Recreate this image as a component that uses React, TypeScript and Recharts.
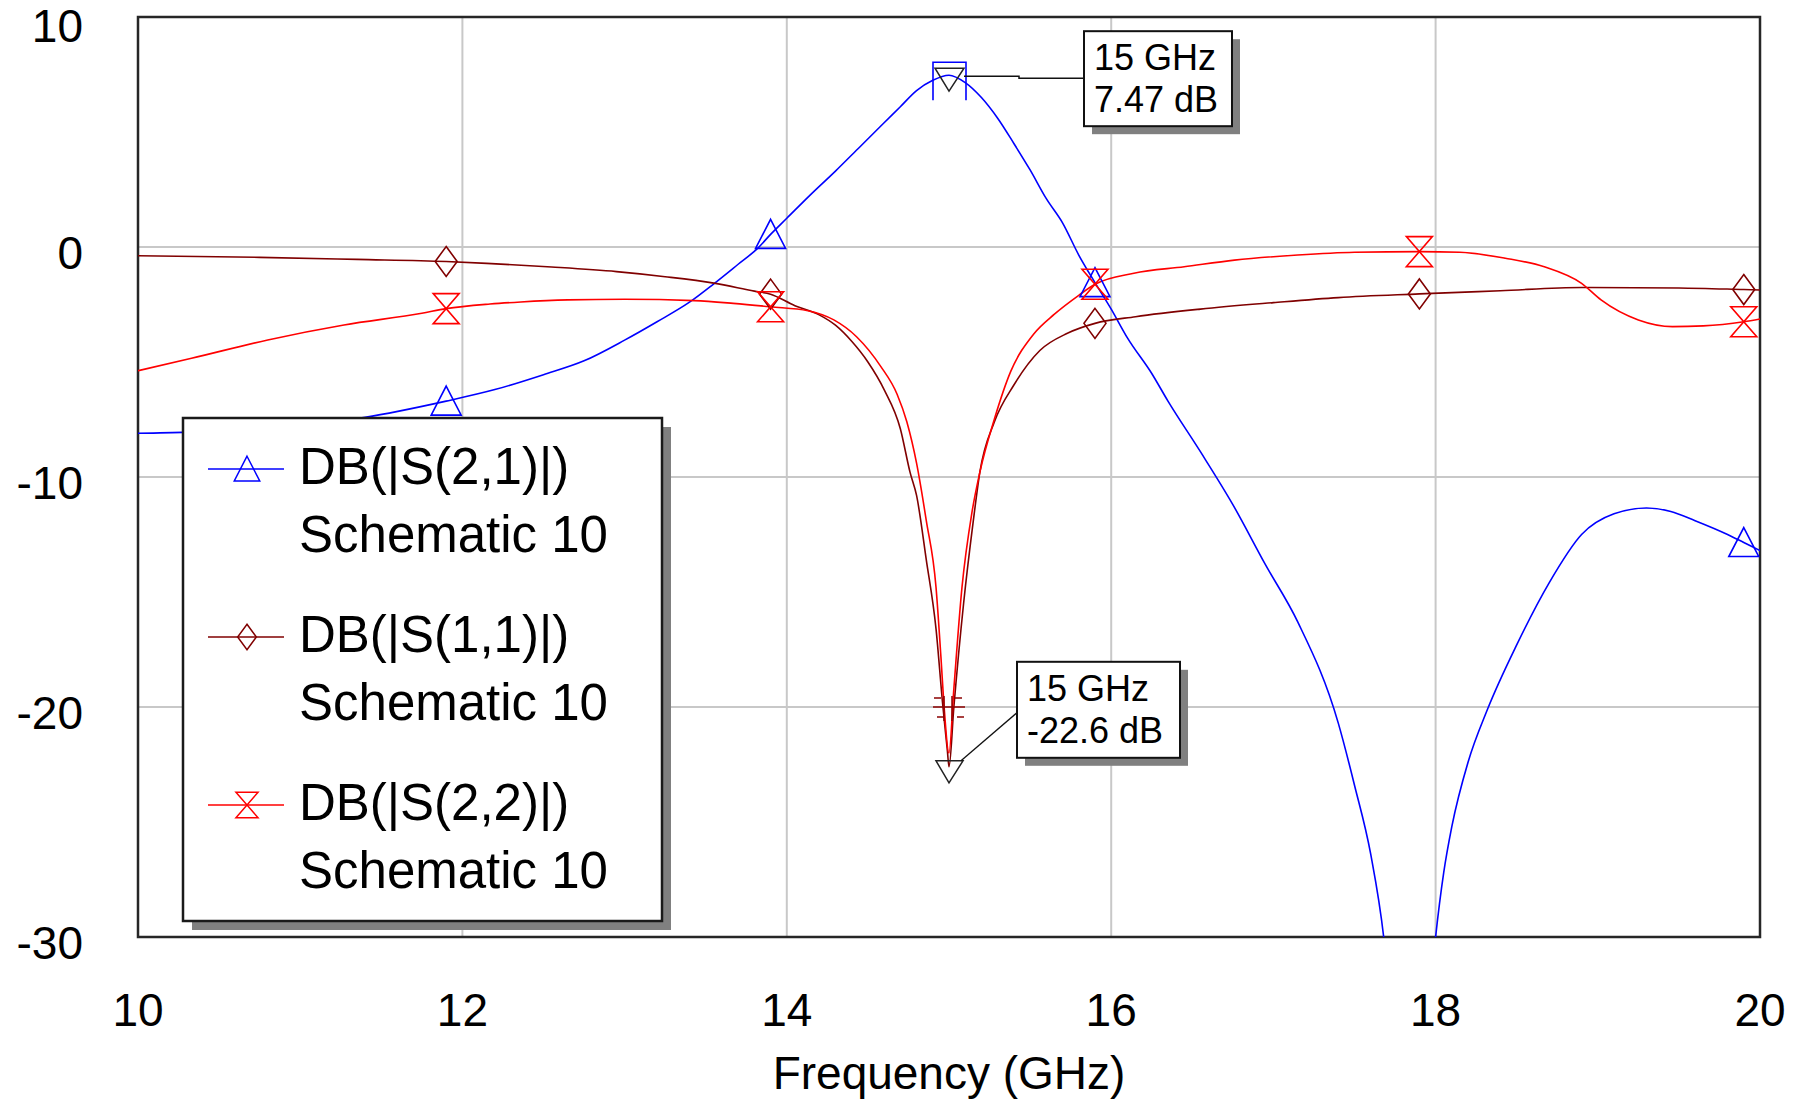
import React from 'react'
import { LineChart, Line, XAxis, YAxis, CartesianGrid, ReferenceArea, ReferenceDot } from 'recharts'

const FONT = '"Liberation Sans", Arial, sans-serif'

// frequency sweep readings, GHz / dB
const S21_FREQ = [10.0, 10.3, 10.8, 11.4, 11.9, 12.2, 12.5, 12.75, 13.0, 13.2, 13.4, 13.55, 13.7, 13.82, 13.9, 14.0, 14.15, 14.3, 14.45, 14.6, 14.7, 14.8, 14.9, 15.0, 15.1, 15.2, 15.3, 15.4, 15.5, 15.6, 15.7, 15.8, 15.9, 16.0, 16.1, 16.25, 16.35, 16.55, 16.75, 16.95, 17.15, 17.4, 17.5, 17.6, 17.68, 17.84, 18.0, 18.05, 18.1, 18.2, 18.32, 18.5, 18.7, 18.9, 19.1, 19.3, 19.45, 19.6, 19.8, 19.9, 20.0]
const S21_DB = [-8.1, -8.05, -7.8, -7.4, -6.7, -6.2, -5.55, -4.95, -4.05, -3.25, -2.4, -1.6, -0.75, -0.06, 0.55, 1.25, 2.3, 3.3, 4.35, 5.4, 6.1, 6.8, 7.25, 7.47, 7.15, 6.5, 5.6, 4.5, 3.35, 2.1, 1.05, -0.35, -1.55, -2.7, -3.95, -5.5, -6.7, -8.9, -11.2, -13.8, -16.3, -20.7, -23.4, -26.4, -30.0, -45.0, -30.0, -27.2, -25.2, -22.4, -20.1, -17.3, -14.6, -12.5, -11.6, -11.35, -11.5, -11.9, -12.5, -12.85, -13.2]

const S11_FREQ = [10.0, 10.75, 11.35, 11.9, 12.15, 12.55, 12.95, 13.25, 13.55, 13.8, 13.9, 14.05, 14.2, 14.3, 14.4, 14.5, 14.6, 14.7, 14.76, 14.8, 14.86, 14.92, 14.96, 14.99, 15.0, 15.03, 15.09, 15.15, 15.19, 15.28, 15.4, 15.56, 15.73, 15.9, 16.15, 16.55, 17.0, 17.4, 17.9, 18.4, 18.9, 19.5, 19.9, 20.0]
const S11_DB = [-0.38, -0.45, -0.54, -0.63, -0.71, -0.87, -1.07, -1.29, -1.57, -1.92, -2.05, -2.55, -2.95, -3.4, -4.1, -5.0, -6.2, -7.9, -9.8, -10.8, -13.6, -16.6, -19.8, -21.9, -22.6, -20.0, -15.5, -11.9, -9.8, -7.6, -6.0, -4.5, -3.75, -3.32, -3.03, -2.7, -2.42, -2.2, -2.04, -1.9, -1.76, -1.78, -1.85, -1.87]

const S22_FREQ = [10.0, 10.33, 10.8, 11.27, 11.75, 11.9, 12.17, 12.36, 12.65, 13.0, 13.43, 13.67, 13.9, 14.13, 14.29, 14.43, 14.58, 14.68, 14.74, 14.8, 14.86, 14.92, 14.95, 14.97, 15.0, 15.03, 15.08, 15.14, 15.19, 15.28, 15.38, 15.52, 15.65, 15.8, 15.9, 16.14, 16.45, 16.76, 17.15, 17.5, 17.9, 18.15, 18.43, 18.67, 18.9, 19.02, 19.25, 19.46, 19.65, 19.9, 20.0]
const S22_DB = [-5.38, -4.84, -4.04, -3.39, -2.88, -2.68, -2.48, -2.39, -2.3, -2.27, -2.33, -2.45, -2.6, -2.77, -3.17, -3.9, -5.2, -6.4, -7.6, -9.4, -11.9, -14.8, -17.8, -20.0, -22.0, -19.2, -14.8, -11.6, -9.8, -7.48, -5.42, -3.8, -2.92, -2.1, -1.62, -1.14, -0.86, -0.57, -0.35, -0.23, -0.2, -0.23, -0.49, -0.86, -1.58, -2.3, -3.17, -3.46, -3.43, -3.25, -3.13]

// trace symbols are drawn only at these sweep points
const MARKER_FREQS = [11.9, 13.9, 15.9, 17.9, 19.9]

const X_TICKS = [10, 12, 14, 16, 18, 20]
const Y_TICKS = [-30, -20, -10, 0, 10]

// marker readouts
const PEAK = { f: 15, db: 7.47 }
const DIP = { f: 15, db: -22.6 }
const DIP_REF = -20

const toRows = (f: number[], db: number[]) => f.map((x, i) => ({ f: x, db: db[i] }))

type Shape = 'triangle' | 'diamond' | 'hourglass'

const SERIES: { name: string; color: string; shape: Shape; rows: { f: number; db: number }[] }[] = [
  { name: 'DB(|S(2,1)|)', color: '#0000FF', shape: 'triangle', rows: toRows(S21_FREQ, S21_DB) },
  { name: 'DB(|S(1,1)|)', color: '#800000', shape: 'diamond', rows: toRows(S11_FREQ, S11_DB) },
  { name: 'DB(|S(2,2)|)', color: '#FF0000', shape: 'hourglass', rows: toRows(S22_FREQ, S22_DB) },
]

const W = 1798
const H = 1102
const PLOT_TOP = 17
const PLOT_BOTTOM = 937

function markerPath(shape: Shape, cx: number, cy: number, k = 1) {
  if (shape === 'triangle')
    return `M${cx},${cy - 15 * k} L${cx + 15 * k},${cy + 14 * k} L${cx - 15 * k},${cy + 14 * k} Z`
  if (shape === 'diamond')
    return `M${cx},${cy - 15 * k} L${cx + 11 * k},${cy} L${cx},${cy + 15 * k} L${cx - 11 * k},${cy} Z`
  return `M${cx - 13 * k},${cy - 15 * k} L${cx + 13 * k},${cy - 15 * k} L${cx - 13 * k},${cy + 15 * k} L${cx + 13 * k},${cy + 15 * k} Z`
}

const markerDot = (shape: Shape, color: string) => (props: any) => {
  const { cx, cy, payload, index } = props
  const hit = MARKER_FREQS.some((m) => Math.abs(m - payload.f) < 1e-6)
  if (!hit) return <g key={`dot-${index}`} />
  return <path key={`dot-${index}`} d={markerPath(shape, cx, cy)} fill="none" stroke={color} strokeWidth={1.6} />
}

function YTick(props: any) {
  const { y, payload } = props
  // top label is kept just inside the canvas
  return (
    <text x={83} y={Math.max(y + 22, 42)} textAnchor="end" fontSize={46} fontFamily={FONT} fill="#000">
      {payload.value}
    </text>
  )
}

function XTick(props: any) {
  const { x, payload } = props
  return (
    <text x={x} y={PLOT_BOTTOM + 89} textAnchor="middle" fontSize={46} fontFamily={FONT} fill="#000">
      {payload.value}
    </text>
  )
}

function AxisTitle(props: any) {
  const vb = props.viewBox || { x: 138, width: 1622 }
  return (
    <text x={vb.x + vb.width / 2} y={PLOT_BOTTOM + 152} textAnchor="middle" fontSize={46} fontFamily={FONT} fill="#000">
      Frequency (GHz)
    </text>
  )
}

function NoteBox({ x, y, w, h, lines, size }: { x: number; y: number; w: number; h: number; lines: string[]; size: number }) {
  return (
    <g>
      <rect x={x + 8} y={y + 8} width={w} height={h} fill="#808080" />
      <rect x={x} y={y} width={w} height={h} fill="#fff" stroke="#111" strokeWidth={2} />
      {lines.map((t, i) => (
        <text key={t} x={x + 10} y={y + 39 + i * 42} fontSize={size} fontFamily={FONT} fill="#000">
          {t}
        </text>
      ))}
    </g>
  )
}

function PeakNote(props: any) {
  const { cx, cy } = props
  return (
    <g>
      <path d={`M${cx - 16},${cy + 25} L${cx - 16},${cy - 13} L${cx + 17},${cy - 13} L${cx + 17},${cy + 25}`} fill="none" stroke="#0000FF" strokeWidth={1.6} />
      <path d={`M${cx - 14},${cy - 7} L${cx + 15},${cy - 7} L${cx},${cy + 16} Z`} fill="none" stroke="#222" strokeWidth={1.5} />
      <polyline points={`${cx + 15},${cy + 1} ${cx + 70},${cy + 1} ${cx + 70},${cy + 3} ${cx + 135},${cy + 3}`} fill="none" stroke="#111" strokeWidth={1.5} />
      <NoteBox x={cx + 135} y={cy - 44} w={148} h={95} lines={[`${PEAK.f} GHz`, `${PEAK.db} dB`]} size={36} />
    </g>
  )
}

function DipNote(props: any) {
  const { cx, cy } = props
  return (
    <g>
      <path d={`M${cx - 13},${cy - 6} L${cx + 14},${cy - 6} L${cx},${cy + 16} Z`} fill="none" stroke="#222" strokeWidth={1.5} />
      <line x1={cx + 12} y1={cy - 6} x2={cx + 69} y2={cy - 55} stroke="#111" strokeWidth={1.3} />
      <NoteBox x={cx + 68} y={cy - 105} w={163} h={96} lines={[`${DIP.f} GHz`, `${DIP.db} dB`]} size={36} />
    </g>
  )
}

function RefCross(props: any) {
  const { cx, cy } = props
  const c = '#8B0000'
  return (
    <g stroke={c} strokeWidth={1.5}>
      <line x1={cx - 16} x2={cx + 16} y1={cy} y2={cy} />
      <line x1={cx - 15} x2={cx - 8} y1={cy - 9} y2={cy - 9} />
      <line x1={cx + 6} x2={cx + 13} y1={cy - 9} y2={cy - 9} />
      <line x1={cx - 12} x2={cx - 5} y1={cy + 10} y2={cy + 10} />
      <line x1={cx + 8} x2={cx + 15} y1={cy + 10} y2={cy + 10} />
      <line x1={cx - 5} x2={cx - 5} y1={cy - 11} y2={cy + 14} />
      <line x1={cx + 3} x2={cx + 3} y1={cy - 11} y2={cy + 14} />
    </g>
  )
}

function LegendBox() {
  const left = 183
  const top = 418
  const w = 479
  const h = 503
  return (
    <svg width={W} height={H} style={{ position: 'absolute', left: 0, top: 0, pointerEvents: 'none' }}>
      <rect x={left + 9} y={top + 9} width={w} height={h} fill="#808080" />
      <rect x={left} y={top} width={w} height={h} fill="#fff" stroke="#1a1a1a" strokeWidth={2.5} />
      {SERIES.map((s, i) => {
        const base = 484 + i * 168
        const ly = base - 15
        return (
          <g key={s.name}>
            <line x1={208} x2={284} y1={ly} y2={ly} stroke={s.color} strokeWidth={1.6} />
            <path d={markerPath(s.shape, 247, ly, 0.85)} fill="none" stroke={s.color} strokeWidth={1.5} />
            <text x={299} y={base} fontSize={51} fontFamily={FONT} fill="#000">
              {s.name}
            </text>
            <text x={299} y={base + 68} fontSize={51} fontFamily={FONT} fill="#000">
              Schematic 10
            </text>
          </g>
        )
      })}
    </svg>
  )
}

export default function App() {
  return (
    <div style={{ position: 'absolute', left: 0, top: 0, width: W, height: H, background: '#fff' }}>
      <LineChart width={W} height={H} margin={{ top: PLOT_TOP, right: 38, bottom: 55, left: 0 }}>
        <CartesianGrid stroke="#C8C8C8" strokeWidth={2} horizontalValues={Y_TICKS} verticalValues={X_TICKS} />
        <XAxis
          type="number"
          dataKey="f"
          domain={[10, 20]}
          ticks={X_TICKS}
          height={110}
          axisLine={false}
          tickLine={false}
          tick={<XTick />}
          allowDataOverflow
          label={{ content: (p: any) => <AxisTitle {...p} /> }}
        />
        <YAxis
          type="number"
          domain={[-30, 10]}
          ticks={Y_TICKS}
          width={138}
          axisLine={false}
          tickLine={false}
          tick={<YTick />}
          allowDataOverflow
        />
        {SERIES.map((s) => (
          <Line
            key={s.name}
            data={s.rows}
            dataKey="db"
            name={s.name}
            type="monotone"
            stroke={s.color}
            strokeWidth={1.6}
            dot={markerDot(s.shape, s.color)}
            activeDot={false}
            isAnimationActive={false}
          />
        ))}
        <ReferenceArea x1={10} x2={20} y1={-30} y2={10} fill="none" stroke="#262626" strokeWidth={2.5} />
        <ReferenceDot x={DIP.f} y={DIP_REF} r={0} shape={(p: any) => <RefCross {...p} />} />
        <ReferenceDot x={PEAK.f} y={PEAK.db} r={0} shape={(p: any) => <PeakNote {...p} />} />
        <ReferenceDot x={DIP.f} y={DIP.db} r={0} shape={(p: any) => <DipNote {...p} />} />
      </LineChart>
      <LegendBox />
    </div>
  )
}
